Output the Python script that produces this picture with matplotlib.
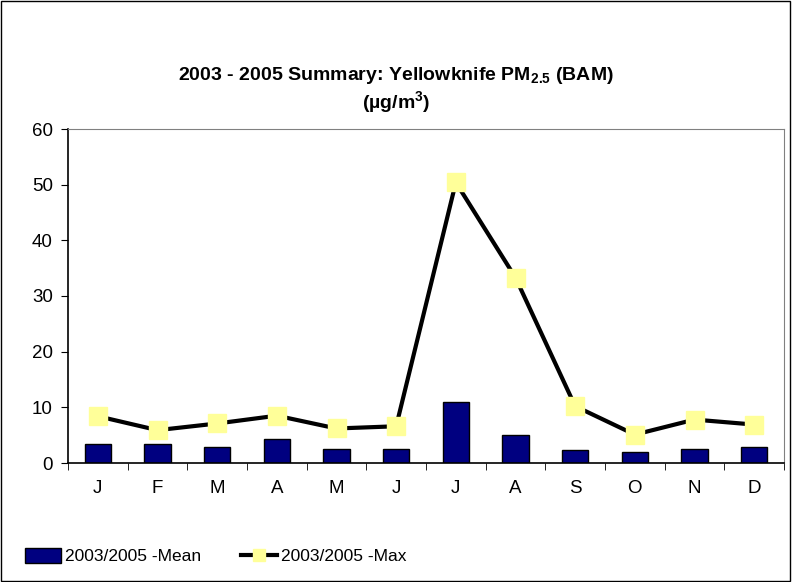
import numpy as np
import matplotlib.pyplot as plt
from matplotlib.patches import Rectangle
from matplotlib.lines import Line2D

plt.rcParams['font.family'] = 'Liberation Sans'
plt.rcParams['mathtext.fontset'] = 'custom'
plt.rcParams['mathtext.rm'] = 'Liberation Sans'
plt.rcParams['mathtext.bf'] = 'Liberation Sans:bold'

months = ['J', 'F', 'M', 'A', 'M', 'J', 'J', 'A', 'S', 'O', 'N', 'D']
mean_vals = [3.5, 3.5, 2.9, 4.3, 2.6, 2.6, 11.0, 5.0, 2.3, 2.0, 2.6, 2.9]
max_vals = [8.4, 5.9, 7.1, 8.5, 6.2, 6.6, 50.4, 33.3, 10.2, 5.1, 7.8, 6.9]

fig = plt.figure(figsize=(7.92, 5.82), dpi=100)
ax = fig.add_axes([68 / 792, 1 - 463 / 582, 716 / 792, 334 / 582])

x = np.arange(len(months))
ax.bar(x, mean_vals, width=0.44, color='#000080', edgecolor='black', linewidth=1,
       zorder=2)
ax.plot(x, max_vals, color='black', linewidth=3, marker='s', markersize=13,
        markerfacecolor='#FFFF99', markeredgecolor='#FFFF99', zorder=3)

ax.set_xlim(-0.5, 11.5)
ax.set_ylim(0, 60)
ax.set_yticks(range(0, 61, 10))
ax.set_xticks(x)
ax.set_xticklabels(months)
ax.set_xticks(np.arange(-0.5, 12, 1), minor=True)
ax.tick_params(axis='x', which='major', length=0, labelsize=13.5, pad=12)
ax.tick_params(axis='x', which='minor', length=5, direction='out')
ax.tick_params(axis='y', length=5, direction='out', labelsize=13.5, pad=6)

ax.spines['top'].set_color('#808080')
ax.spines['right'].set_color('#808080')
for s in ('left', 'bottom'):
    ax.spines[s].set_linewidth(1.2)

fig.text(0.5, 1 - 75 / 582,
         r'2003 - 2005 Summary: Yellowknife PM$_{\mathbf{2.5}}$ (BAM)',
         ha='center', va='center', fontsize=14, fontweight='bold')
fig.text(0.5, 1 - 103 / 582, r'(µg/m$^{\mathbf{3}}$)',
         ha='center', va='center', fontsize=14, fontweight='bold')

h_mean = Rectangle((0, 0), 1, 1, facecolor='#000080', edgecolor='black', linewidth=1)
h_max = Line2D([], [], color='black', linewidth=3, marker='s', markersize=9,
               markerfacecolor='#FFFF99', markeredgecolor='#FFFF99')
fig.legend([h_mean, h_max], ['2003/2005 -Mean', '2003/2005 -Max'],
           loc='lower left', bbox_to_anchor=(9 / 792, 2 / 582), ncol=2,
           frameon=False, fontsize=12.5, handlelength=2.1, handleheight=0.9,
           handletextpad=0.2, columnspacing=2.3)

fig.patches.append(Rectangle((0.001, 0.001), 0.997, 0.997, transform=fig.transFigure,
                             fill=False, edgecolor='black', linewidth=1))

fig.savefig('out.png', dpi=100)
